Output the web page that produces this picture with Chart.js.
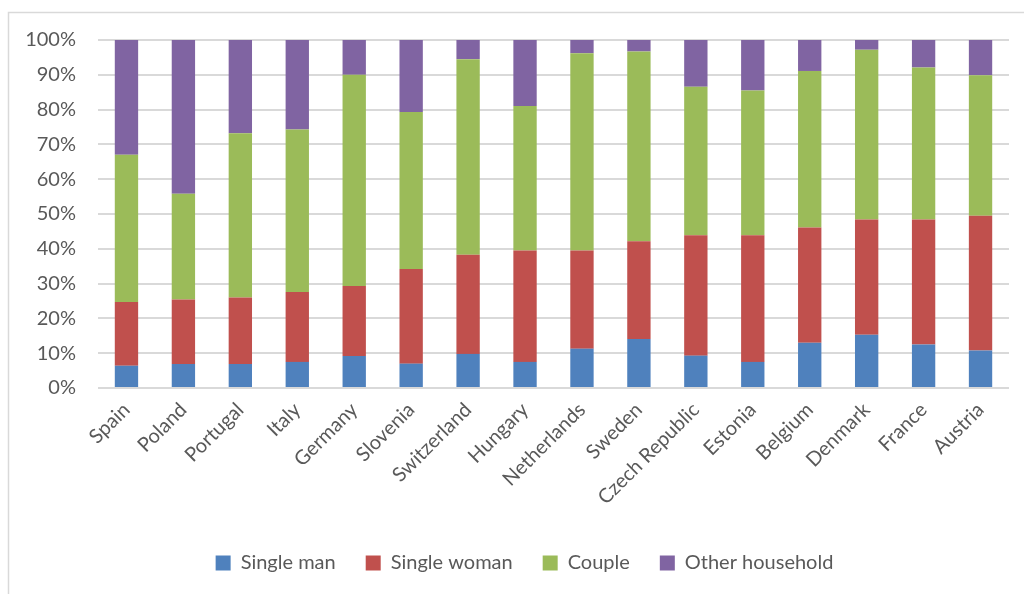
<!DOCTYPE html>
<html>
<head>
<meta charset="utf-8">
<script src="https://cdn.jsdelivr.net/npm/chart.js@4"></script>
<style>
  html, body { margin: 0; padding: 0; background: #fff; }
  #wrap { width: 1024px; height: 594px; }
</style>
</head>
<body>
<div id="wrap"><canvas id="chart" width="1024" height="594"></canvas></div>
<script>
const countries = ["Spain", "Poland", "Portugal", "Italy", "Germany", "Slovenia", "Switzerland", "Hungary",
  "Netherlands", "Sweden", "Czech Republic", "Estonia", "Belgium", "Denmark", "France", "Austria"];

// shares in % (each country sums to 100)
const singleMan = [6.4, 6.9, 6.9, 7.5, 9.2, 7.0, 9.8, 7.5, 11.3, 14.1, 9.3, 7.5, 13.0, 15.3, 12.5, 10.8];
const singleWoman = [18.3, 18.5, 19.1, 20.1, 20.1, 27.2, 28.5, 32.0, 28.2, 28.1, 34.6, 36.4, 33.1, 33.1, 35.9, 38.7];
const couple = [42.3, 30.4, 47.2, 46.7, 60.7, 45.1, 56.2, 41.5, 56.7, 54.5, 42.7, 41.6, 45.0, 48.8, 43.7, 40.4];
const otherHousehold = [33.0, 44.2, 26.8, 25.7, 10.0, 20.7, 5.5, 19.0, 3.8, 3.3, 13.4, 14.5, 8.9, 2.8, 7.9, 10.1];

const yTicks = [0, 10, 20, 30, 40, 50, 60, 70, 80, 90, 100];

const textColor = "#595959";
const gridColor = "#d9d9d9";
const font = "Lato, 'Liberation Sans', sans-serif";

// light frame of the chart area (top and left edges visible)
const framePlugin = {
  id: "frame",
  beforeDraw(chart) {
    const ctx = chart.ctx;
    ctx.save();
    ctx.strokeStyle = gridColor;
    ctx.lineWidth = 1.5;
    ctx.beginPath();
    ctx.moveTo(8.5, chart.height);
    ctx.lineTo(8.5, 12.5);
    ctx.lineTo(chart.width, 12.5);
    ctx.stroke();
    ctx.restore();
  },
};

// legend sits a bit right of centre in the original
const legendShift = {
  id: "legendShift",
  afterLayout(chart) {
    chart.legend.left += 15;
    chart.legend.right += 15;
  },
};

function ds(label, data, color) {
  return {
    label: label,
    data: data,
    backgroundColor: color,
    borderWidth: 0,
    categoryPercentage: 1,
    barPercentage: 0.41,
  };
}

new Chart(document.getElementById("chart"), {
  type: "bar",
  data: {
    labels: countries,
    datasets: [
      ds("Single man", singleMan, "#4F81BD"),
      ds("Single woman", singleWoman, "#C0504D"),
      ds("Couple", couple, "#9BBB59"),
      ds("Other household", otherHousehold, "#8064A2"),
    ],
  },
  options: {
    responsive: false,
    animation: false,
    layout: { padding: { left: 10, right: 15, top: 40, bottom: 11 } },
    plugins: {
      legend: {
        position: "bottom",
        labels: {
          boxWidth: 15,
          boxHeight: 15,
          padding: 30,
          color: textColor,
          font: { family: font, size: 20 },
        },
      },
      tooltip: { enabled: false },
    },
    scales: {
      x: {
        stacked: true,
        grid: { display: false },
        border: { display: false },
        ticks: {
          color: textColor,
          font: { family: font, size: 20 },
          minRotation: 45,
          maxRotation: 45,
          padding: 2,
        },
        afterFit: (s) => { s.height = 135; },
      },
      y: {
        stacked: true,
        min: 0,
        max: 100,
        afterBuildTicks: (s) => { s.ticks = yTicks.map((v) => ({ value: v })); },
        grid: { color: gridColor, lineWidth: 2, drawTicks: false },
        border: { display: false },
        ticks: {
          color: textColor,
          font: { family: font, size: 20 },
          padding: 22,
          callback: (v) => v + "%",
        },
        afterFit: (s) => { s.width = 88; },
      },
    },
  },
  plugins: [framePlugin, legendShift],
});
</script>
</body>
</html>
